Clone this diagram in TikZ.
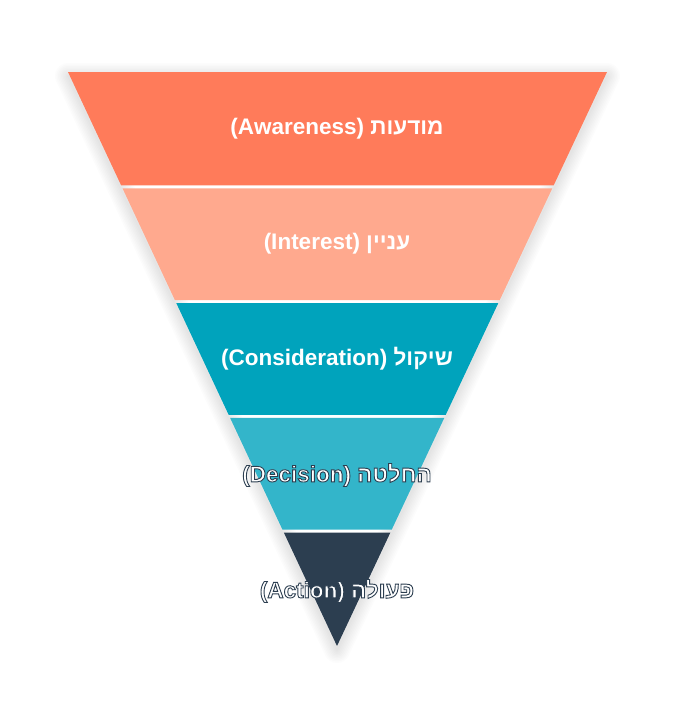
\documentclass[tikz,border=0pt]{standalone}
\usepackage{fontspec}
\usepackage{tikz}
\usetikzlibrary{calc}
\TeXXeTstate=1
\newfontfamily\funnelfont[Script=Hebrew]{Liberation Sans}

\definecolor{awarecol}{HTML}{FF7B5A}
\definecolor{interestcol}{HTML}{FFA98E}
\definecolor{considercol}{HTML}{00A3BC}
\definecolor{decidecol}{HTML}{33B5CA}
\definecolor{actioncol}{HTML}{2C3E50}

% white text with a dark rim
\newcommand{\rimtext}[1]{\special{pdf:literal direct 2 Tr 0.9 w 0.173 0.243 0.314 RG}#1\special{pdf:literal direct 0 Tr}}

\tikzset{
	band/.style={draw=none},
	label/.style={text=white, font=\funnelfont\bfseries\fontsize{22.5}{26}\selectfont},
	halo/.style={black, opacity=0.011, line join=round}
}

\begin{document}
\begin{tikzpicture}[x=1pt, y=-1pt]
		\useasboundingbox[fill=white] (0,0) rectangle (675,720);
		
		%Corners
		\coordinate (tl) at (68,72);
		\coordinate (tr) at (607,72);
		\coordinate (apex) at (337,646);
		
		%Shadow
		\foreach \w in {2,5,...,26}
			\draw[halo, line width=\w pt] ($(tl)+(0,4)$) -- ($(tr)+(0,4)$) -- ($(apex)+(0,4)$) -- cycle;
		
		%Bands
		\fill[band, awarecol] (tl) -- (tr) -- ($(tr)!0.1974!(apex)$) -- ($(tl)!0.1974!(apex)$) -- cycle;
		\fill[band, interestcol] ($(tl)!0.2026!(apex)$) -- ($(tr)!0.2026!(apex)$) -- ($(tr)!0.3974!(apex)$) -- ($(tl)!0.3974!(apex)$) -- cycle;
		\fill[band, considercol] ($(tl)!0.4026!(apex)$) -- ($(tr)!0.4026!(apex)$) -- ($(tr)!0.5974!(apex)$) -- ($(tl)!0.5974!(apex)$) -- cycle;
		\fill[band, decidecol] ($(tl)!0.6026!(apex)$) -- ($(tr)!0.6026!(apex)$) -- ($(tr)!0.7974!(apex)$) -- ($(tl)!0.7974!(apex)$) -- cycle;
		\fill[band, actioncol] ($(tl)!0.8026!(apex)$) -- ($(tr)!0.8026!(apex)$) -- (apex) -- cycle;
		
		%Labels
		\node[label] (aware) at (337,129) {\beginR מודעות \beginL(Awareness)\endL\endR};
		\node[label] (interest) at (337,244) {\beginR עניין \beginL(Interest)\endL\endR};
		\node[label] (consider) at (337,359) {\beginR שיקול \beginL(Consideration)\endL\endR};
		\node[label] (decide) at (337,475) {\rimtext{\beginR החלטה \beginL(Decision)\endL\endR}};
		\node[label] (action) at (337,591) {\rimtext{\beginR פעולה \beginL(Action)\endL\endR}};
	\end{tikzpicture}
\end{document}
